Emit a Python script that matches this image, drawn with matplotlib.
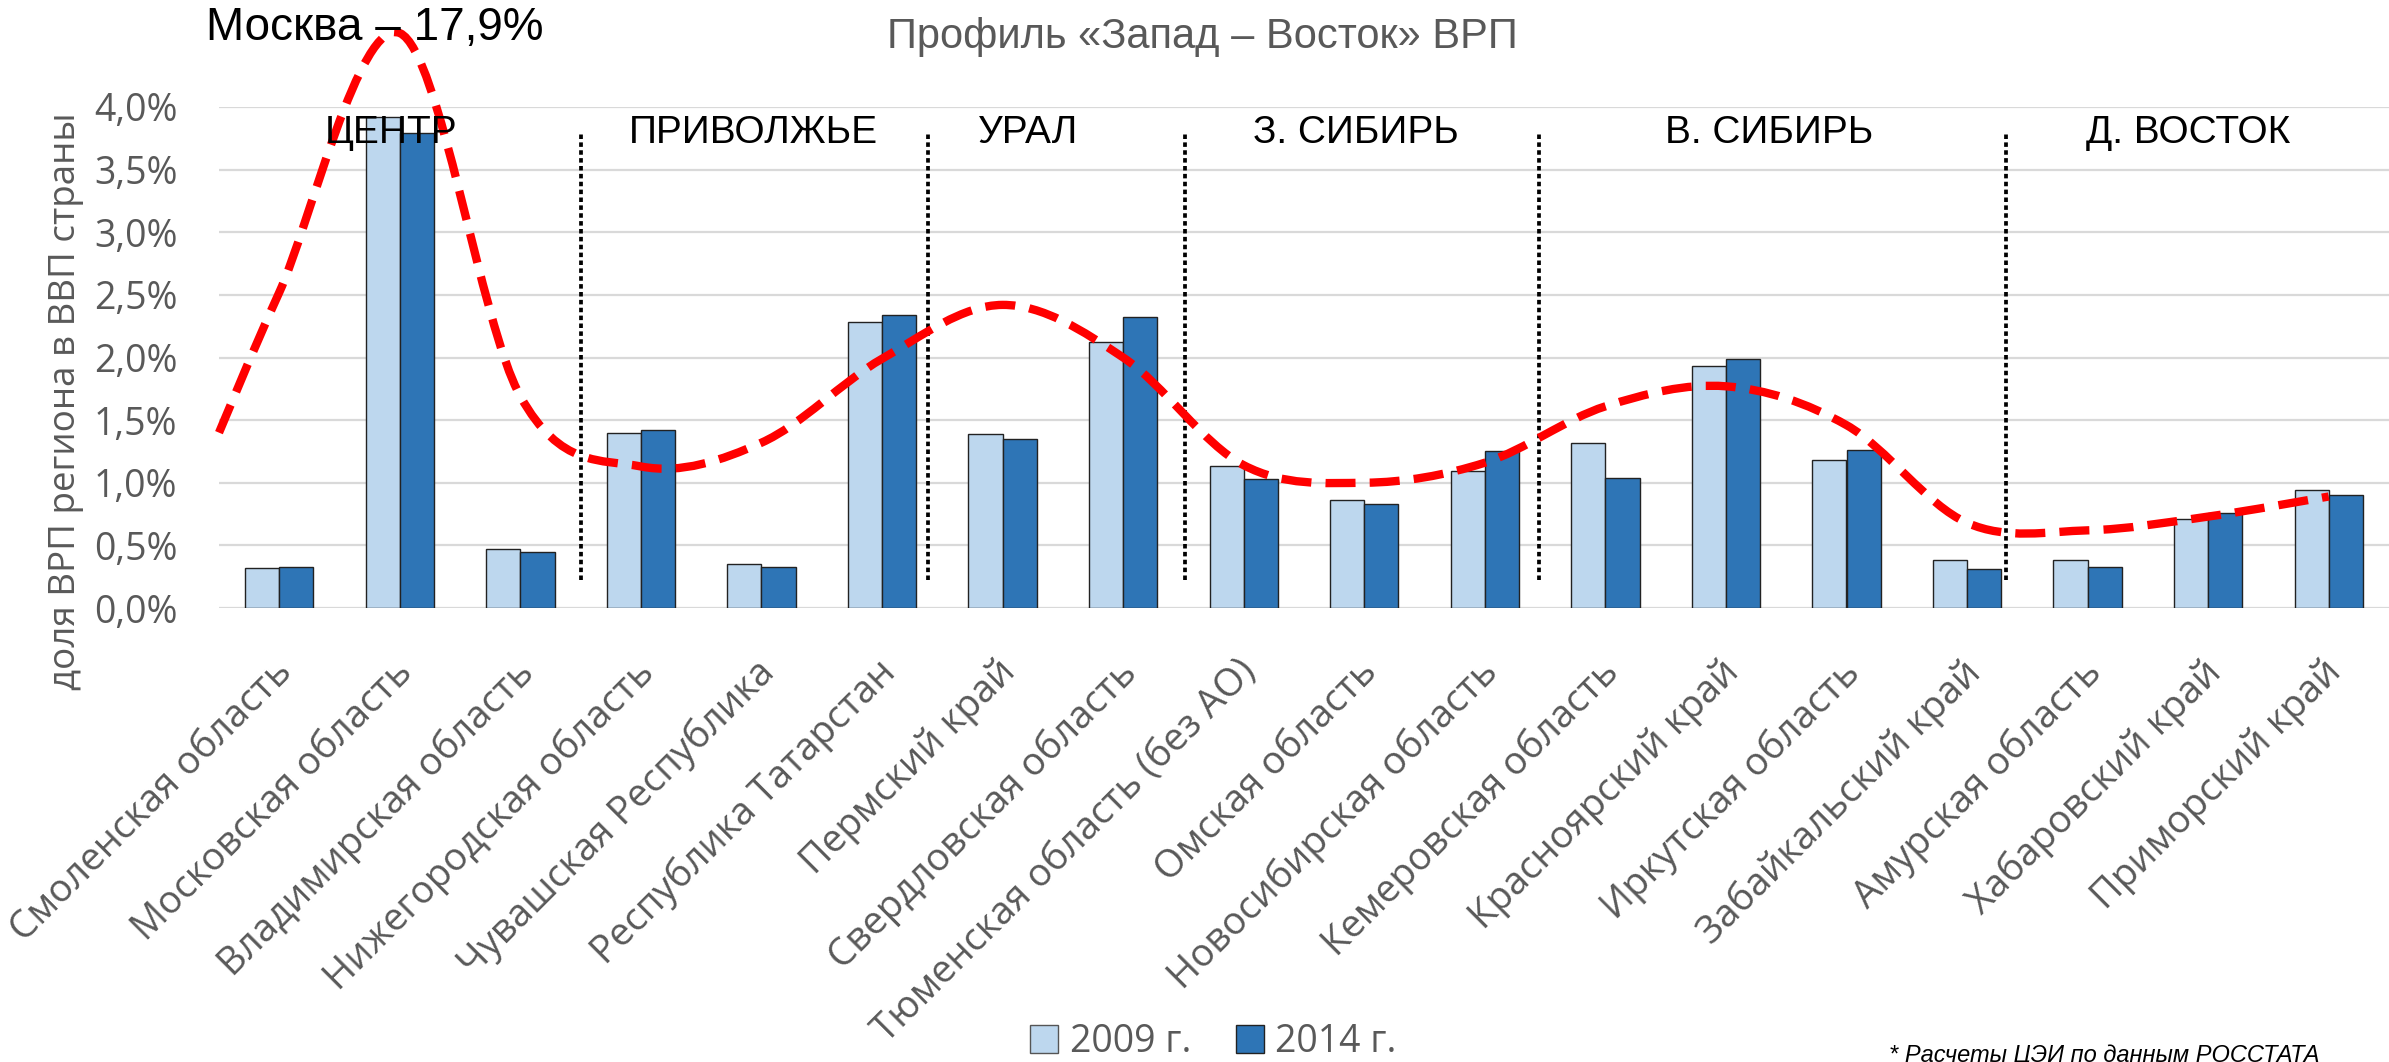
import matplotlib
matplotlib.use("Agg")
import matplotlib.pyplot as plt
from matplotlib.path import Path
from matplotlib.patches import PathPatch, Patch
import matplotlib.transforms as mtransforms
import numpy as np

# ---- data ----
regions = ["Смоленская область", "Московская область", "Владимирская область",
           "Нижегородская область", "Чувашская Республика", "Республика Татарстан",
           "Пермский край", "Свердловская область", "Тюменская область (без АО)",
           "Омская область", "Новосибирская область", "Кемеровская область",
           "Красноярский край", "Иркутская область", "Забайкальский край",
           "Амурская область", "Хабаровский край", "Приморский край"]
share_2009 = [0.32, 3.92, 0.47, 1.40, 0.35, 2.28, 1.39, 2.12, 1.13,
              0.86, 1.09, 1.32, 1.93, 1.18, 0.38, 0.38, 0.71, 0.94]
share_2014 = [0.33, 3.79, 0.45, 1.42, 0.33, 2.34, 1.35, 2.32, 1.03,
              0.83, 1.25, 1.04, 1.99, 1.26, 0.31, 0.33, 0.76, 0.90]

# hand-drawn trend profile (red dashed), read at category positions
trend_x = [-0.5, 0, 1, 2, 3, 4, 5, 6, 7, 8, 9, 10, 11, 12, 13, 14, 15, 16, 17]
trend_y = [1.40, 2.52, 4.59, 1.69, 1.13, 1.32, 1.99, 2.42, 2.00, 1.14,
           1.00, 1.16, 1.61, 1.77, 1.46, 0.68, 0.62, 0.73, 0.89]

# macro-region labels and separators
zone_names = ["ЦЕНТР", "ПРИВОЛЖЬЕ", "УРАЛ", "З. СИБИРЬ", "В. СИБИРЬ", "Д. ВОСТОК"]
zone_pos = [0.93, 3.93, 6.21, 8.93, 12.36, 15.83]
separators = [2.5, 5.38, 7.51, 10.45, 14.32]

yticks = [0, 0.5, 1.0, 1.5, 2.0, 2.5, 3.0, 3.5, 4.0]

GREY = "#595959"
C2009 = "#BDD7EE"
C2014 = "#2E75B6"
GREY_FONT = ["Open Sans", "DejaVu Sans"]
BLACK_FONT = ["Liberation Sans", "DejaVu Sans"]

fig = plt.figure(figsize=(23.89, 10.62), dpi=100)
ax = fig.add_axes([219 / 2389, 454 / 1062, 1 - 219 / 2389, 501 / 1062])

x = np.arange(len(regions))
w = 0.283
ax.bar(x - w / 2, share_2009, w, color=C2009, edgecolor="#222222", linewidth=1.0, zorder=3)
ax.bar(x + w / 2, share_2014, w, color=C2014, edgecolor="#222222", linewidth=1.0, zorder=3)

ax.set_xlim(-0.5, 17.5)
ax.set_ylim(0, 4.0)
ax.set_yticks(yticks)
ax.set_yticklabels([f"{v:.1f}%".replace(".", ",") for v in yticks],
                   family=GREY_FONT, fontsize=27, color=GREY)
ax.tick_params(axis="y", length=0, pad=30)
ax.set_xticks([])
ax.grid(axis="y", color="#D9D9D9", linewidth=1.6, zorder=0)
ax.set_axisbelow(True)
for s in ax.spines.values():
    s.set_visible(False)

# category labels, rotated
trans = mtransforms.blended_transform_factory(ax.transData, ax.transAxes)
for i, name in enumerate(regions):
    ax.text(i - 0.05, -0.09, name, transform=trans, rotation=45, rotation_mode="anchor",
            ha="right", va="top", family=GREY_FONT, fontsize=27.5, color=GREY, clip_on=False)

# dotted separators
ax.vlines(separators, 0.22, 3.8, colors="black", linestyles=(0, (1.2, 0.9)),
          linewidth=2.7, zorder=4)

# zone labels
for name, px in zip(zone_names, zone_pos):
    ax.text(px, 3.79, name, ha="center", va="center", family=BLACK_FONT,
            fontsize=28, color="black", zorder=6)

# smooth dashed trend through the points (Catmull-Rom as cubic Bezier)
pts = np.column_stack([trend_x, trend_y])
verts = [pts[0]]
codes = [Path.MOVETO]
n = len(pts)
for k in range(n - 1):
    p0 = pts[k - 1] if k > 0 else pts[k]
    p1 = pts[k]
    p2 = pts[k + 1]
    p3 = pts[k + 2] if k + 2 < n else pts[k + 1]
    verts += [p1 + (p2 - p0) / 6, p2 - (p3 - p1) / 6, p2]
    codes += [Path.CURVE4] * 3
ax.add_patch(PathPatch(Path(verts, codes), fill=False, edgecolor="#FF0000",
                       linewidth=6, linestyle=(0, (3.6, 1.7)), capstyle="butt",
                       zorder=5, clip_on=False))

# texts outside
fig.text(0.5035, 1 - 37 / 1062, "Профиль «Запад – Восток» ВРП", ha="center", va="center",
         family=BLACK_FONT, fontsize=30, color=GREY)
fig.text(375 / 2389, 1 - 28 / 1062, "Москва – 17,9%", ha="center", va="center",
         family=BLACK_FONT, fontsize=33, color="black")
fig.text(66 / 2389, 1 - 401 / 1062, "доля ВРП региона в ВВП страны", rotation=90,
         ha="center", va="center", family=GREY_FONT, fontsize=26.5, color=GREY)
fig.text(2104 / 2389, 1 - 1044 / 1062, "* Расчеты ЦЭИ по данным РОССТАТА", ha="center",
         va="top", family=BLACK_FONT, fontsize=17, style="italic", color="black")

handles = [Patch(facecolor=C2009, edgecolor="#555555", linewidth=1.0),
           Patch(facecolor=C2014, edgecolor="#222222", linewidth=1.0)]
fig.legend(handles, ["2009 г.", "2014 г."], loc="center", bbox_to_anchor=(0.508, 1 - 1042 / 1062),
           ncol=2, frameon=False, handlelength=0.75, handleheight=0.8, handletextpad=0.3,
           columnspacing=1.2, prop={"family": GREY_FONT, "size": 27}, labelcolor=GREY)

fig.savefig("out.png", dpi=100)
